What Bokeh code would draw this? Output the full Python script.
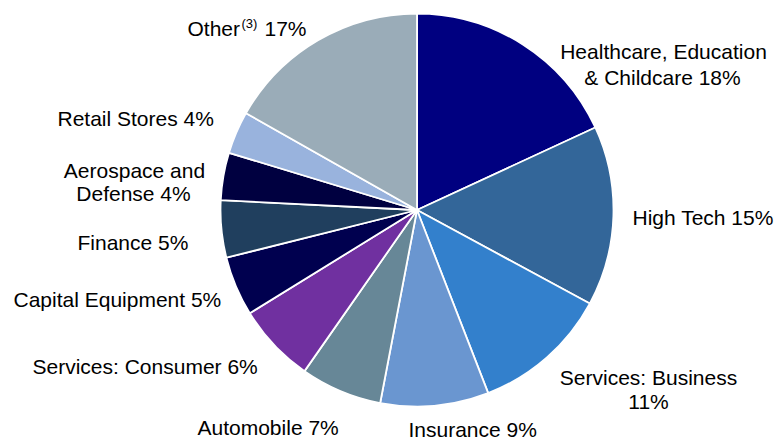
import math
from bokeh.plotting import figure
from bokeh.models import Range1d, ColumnDataSource
from bokeh.core.properties import value
from bokeh.embed import file_html
from bokeh.resources import INLINE

# ---- data ----
categories = ["Healthcare, Education & Childcare", "High Tech", "Services: Business",
              "Insurance", "Automobile", "Services: Consumer", "Capital Equipment",
              "Finance", "Aerospace and Defense", "Retail Stores", "Other"]
shares = [18.1, 14.8, 11.2, 8.9, 6.7, 6.5, 4.9, 4.7, 3.9, 3.5, 16.8]
pct_labels = ["18%", "15%", "11%", "9%", "7%", "6%", "5%", "5%", "4%", "4%", "17%"]

# ---- styles ----
colors = ["#000080", "#336699", "#3380CC", "#6A96D0", "#678797", "#7030A0",
          "#00004F", "#203F5E", "#000040", "#99B3DD", "#9AACB8"]

W, H = 780, 440
CX, CY, R = 416.5, 209.5, 196.5  # pixel layout

p = figure(width=W, height=H, x_range=Range1d(0, W), y_range=Range1d(0, H),
           x_axis_type=None, y_axis_type=None, toolbar_location=None,
           output_backend="svg", min_border=0, outline_line_color=None)
p.grid.visible = False
p.background_fill_color = "white"
p.border_fill_color = "white"

total = sum(shares)
starts, ends = [], []
cum = 0.0
for s in shares:
    a0 = math.pi / 2 - (cum + s) / total * 2 * math.pi
    a1 = math.pi / 2 - cum / total * 2 * math.pi
    starts.append(a0)
    ends.append(a1)
    cum += s

src = ColumnDataSource(dict(start=starts, end=ends, color=colors))
p.wedge(x=CX, y=H - CY, radius=R, start_angle="start", end_angle="end",
        fill_color="color", line_color="white", line_width=1.8, source=src)

FONT = value("Liberation Sans")
FS = "21px"

# label layout: (text, x_px, y_px, align)
lines = [
    ("Healthcare, Education", 663, 51, "center"),
    ("& Childcare " + pct_labels[0], 662, 77, "center"),
    ("High Tech " + pct_labels[1], 632, 217, "left"),
    ("Services: Business", 648, 377, "center"),
    (pct_labels[2], 648, 401, "center"),
    ("Insurance " + pct_labels[3], 408, 429, "left"),
    ("Automobile " + pct_labels[4], 197, 427, "left"),
    ("Services: Consumer " + pct_labels[5], 32, 366, "left"),
    ("Capital Equipment " + pct_labels[6], 13, 299, "left"),
    ("Finance " + pct_labels[7], 77, 242, "left"),
    ("Aerospace and", 134, 170, "center"),
    ("Defense " + pct_labels[8], 133, 193, "center"),
    ("Retail Stores " + pct_labels[9], 57, 118, "left"),
    ("Other", 187, 28, "left"),
    (pct_labels[10], 264, 28, "left"),
]
for t, x, y, al in lines:
    p.text(x=[x], y=[H - y], text=[t], text_font=FONT, text_font_size=FS,
           text_align=al, text_baseline="middle", text_color="black")

# superscript footnote marker on "Other"
p.text(x=[241], y=[H - 23], text=["(3)"], text_font=FONT, text_font_size="13px",
       text_align="left", text_baseline="middle", text_color="black")

open("out.html", "w").write(file_html(p, INLINE))
